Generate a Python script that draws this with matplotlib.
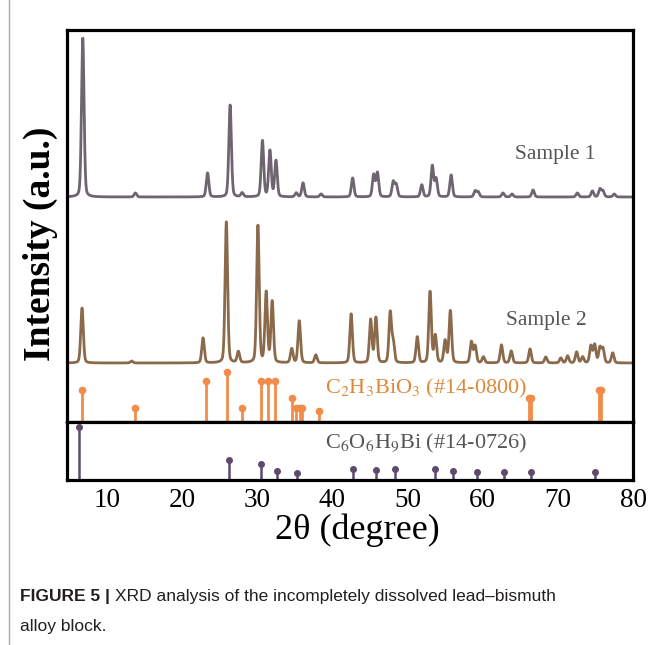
import numpy as np
import matplotlib.pyplot as plt
from matplotlib.lines import Line2D

plt.rcParams['font.family'] = ['Liberation Serif', 'DejaVu Serif']
plt.rcParams['mathtext.fontset'] = 'stix'

# Піки зразків: положення 2θ та висота (у.о.)
s1_pos = [6.8, 13.8, 23.4, 26.4, 28.0, 30.7, 31.7, 32.5, 35.2, 36.1, 38.5,
          42.7, 45.5, 46.0, 48.1, 48.5, 51.9, 53.3, 53.8, 55.8, 59.0, 59.4,
          62.7, 63.9, 66.7, 72.6, 74.6, 75.6, 76.0, 77.5]
s1_int = [159, 4, 24, 92, 4, 56, 46, 36, 4, 14, 3,
          19, 22, 24, 15, 12, 12, 31, 18, 22, 6, 5,
          4, 3, 7, 4, 6, 8, 6, 3]

s2_pos = [6.7, 13.3, 22.8, 25.9, 27.5, 30.1, 31.2, 32.0, 34.6, 35.6, 37.8,
          42.5, 45.1, 45.8, 47.7, 48.1, 51.3, 53.0, 53.7, 55.0, 55.7, 58.5,
          59.0, 60.1, 62.5, 63.8, 66.3, 68.4, 70.4, 71.3, 72.5, 73.3, 74.4,
          74.9, 75.6, 76.0, 77.3]
s2_int = [55, 2, 25, 141, 11, 137, 70, 61, 14, 42, 8,
          49, 43, 45, 50, 20, 26, 71, 27, 22, 52, 21,
          17, 6, 18, 12, 14, 6, 5, 7, 11, 6, 17,
          18, 15, 14, 10]

# Еталони PDF
ref1_pos = [6.7, 13.7, 23.2, 26.0, 28.0, 30.5, 31.5, 32.4, 34.6, 35.2, 35.7,
            36.0, 38.2, 66.2, 66.4, 75.5, 75.7]
ref1_int = [32, 14, 41, 50, 14, 41, 41, 41, 24, 14, 14,
            14, 11, 24, 24, 32, 32]
ref1_name = r'C$_2$H$_3$BiO$_3$ (#14-0800)'

ref2_pos = [6.3, 26.3, 30.5, 32.6, 35.3, 42.7, 45.8, 48.4, 53.7, 56.1, 59.3,
            62.8, 66.4, 75.0]
ref2_int = [53, 20, 16, 9, 7, 11, 10, 11, 11, 9, 8, 8, 8, 8]
ref2_name = r'C$_6$O$_6$H$_9$Bi (#14-0726)'

sample_names = ['Sample 1', 'Sample 2']


def profile(x, pos, inten, fwhm=0.4, eta=0.25):
    y = np.zeros_like(x)
    sig = fwhm / 2.355
    for p, h in zip(pos, inten):
        g = np.exp(-0.5 * ((x - p) / sig) ** 2)
        l = 1 / (1 + ((x - p) / (fwhm / 2)) ** 2)
        y += h * ((1 - eta) * g + eta * l)
    return y


x = np.linspace(4.7, 80.0, 4000)
y1 = profile(x, s1_pos, s1_int)
y2 = profile(x, s2_pos, s2_int)

W, H = 654, 645
fig = plt.figure(figsize=(W / 100, H / 100), dpi=100)
ax = fig.add_axes([67 / W, 1 - 422 / H, 566 / W, 392 / H])
ax2 = fig.add_axes([67 / W, 1 - 480 / H, 566 / W, 58 / H], sharex=ax)

c1 = '#6f6570'
c2 = '#8a6a4b'
c_or = '#f28c4a'
c_pu = '#5e4a6e'

ax.plot(x, y1 + 225, color=c1, lw=2.0)
ax.plot(x, y2 + 59, color=c2, lw=2.0)

ax.vlines(ref1_pos, 0, ref1_int, color=c_or, lw=2.0)
ax.plot(ref1_pos, ref1_int, 'o', color=c_or, ms=4.5)
ax2.vlines(ref2_pos, 0, ref2_int, color=c_pu, lw=1.8)
ax2.plot(ref2_pos, ref2_int, 'o', color=c_pu, ms=4)

ax.text(69.7, 268, sample_names[0], fontsize=15.5, color='#555555',
        ha='center', va='center')
ax.text(68.5, 102, sample_names[1], fontsize=15.5, color='#555555',
        ha='center', va='center')
ax.text(52.5, 34, ref1_name, fontsize=16, color='#e0883a',
        ha='center', va='center')
ax2.text(52.5, 37, ref2_name, fontsize=16, color='#555555',
         ha='center', va='center')

ax.set_xlim(4.7, 80.0)
ax.set_ylim(0, 392)
ax2.set_ylim(0, 58)
ax2.set_xticks([10, 20, 30, 40, 50, 60, 70, 80])

for a in (ax, ax2):
    for s in a.spines.values():
        s.set_linewidth(2.3)
    a.set_yticks([])
    a.tick_params(length=0)
ax.tick_params(labelbottom=False)
ax2.tick_params(axis='x', labelsize=19.5, pad=6)

fig.text(40 / W, 1 - 244 / H, 'Intensity (a.u.)', rotation=90, fontsize=27,
         fontweight='bold', ha='center', va='center')
fig.text(357 / W, 1 - 530 / H, '2θ (degree)', fontsize=26,
         ha='center', va='center')

# Підпис
cap_font = ['Liberation Sans Narrow', 'Liberation Sans', 'DejaVu Sans']
t1 = fig.text(20 / W, 1 - 596 / H, 'FIGURE 5 |', fontsize=12.5, fontweight='bold',
              family=cap_font, color='#231f20', va='center')
fig.canvas.draw()
bb = t1.get_window_extent()
fig.text((bb.x1 + 5) / W, 1 - 596 / H,
         'XRD analysis of the incompletely dissolved lead–bismuth',
         fontsize=12.5, family=cap_font, color='#231f20', va='center')
fig.text(20 / W, 1 - 627 / H, 'alloy block.', fontsize=12.5, family=cap_font,
         color='#231f20', va='center')
fig.add_artist(Line2D([9 / W, 9 / W], [0, 1], color='#aaaaaa', lw=1))

fig.savefig('out.png', dpi=100)
